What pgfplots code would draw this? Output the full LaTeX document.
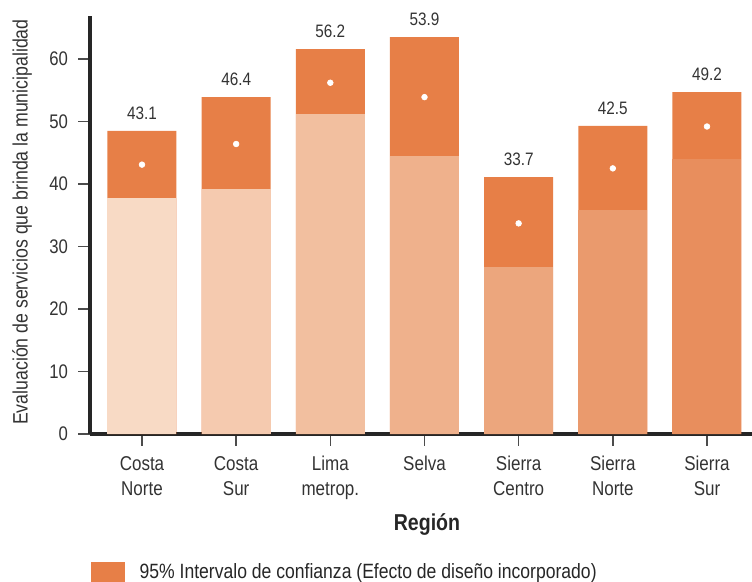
\documentclass[border=0pt]{standalone}
\usepackage{fontspec}
\setmainfont{Liberation Sans}[FakeStretch=0.85]
\usepackage{pgfplots}
\pgfplotsset{compat=1.18}
\definecolor{ci}{HTML}{E77F47}
\definecolor{cA}{HTML}{F8DAC5}
\definecolor{cB}{HTML}{F5CAAF}
\definecolor{cC}{HTML}{F2BF9F}
\definecolor{cD}{HTML}{EFB18C}
\definecolor{cE}{HTML}{ECA67D}
\definecolor{cF}{HTML}{EA9A6D}
\definecolor{cG}{HTML}{E88E5D}
\definecolor{txt}{HTML}{333333}
\begin{document}
\begin{tikzpicture}
\useasboundingbox (-54pt,-88.2pt) rectangle (397.2pt,260.4pt);
\begin{axis}[
  at={(0,0)}, anchor=south west,
  scale only axis, width=397.2pt, height=250.8pt,
  xmin=-0.552, xmax=6.478, ymin=0, ymax=66.88,
  axis x line*=bottom, axis y line*=left,
  axis line style={line width=2pt, color=black!85, -},
  xtick={0,1,2,3,4,5,6},
  xticklabels={Costa\\Norte, Costa\\Sur, Lima\\metrop., Selva, Sierra\\Centro, Sierra\\Norte, Sierra\\Sur},
  ytick={0,10,20,30,40,50,60},
  tick align=outside, major tick length=7pt,
  major tick style={line width=0.9pt, color=black!70},
  /pgf/number format/assume math mode=true,
  ticklabel style={text=txt},
  yticklabel style={font=\fontsize{11.8}{14}\selectfont, anchor=east, inner sep=0pt},
  yticklabel shift=6pt,
  xticklabel style={font=\fontsize{12}{15}\selectfont, align=center, anchor=north, inner sep=0pt},
  xticklabel shift=6.2pt,
  ylabel={Evaluación de servicios que brinda la municipalidad},
  ylabel style={at={(axis description cs:-0.1027,0.507)}, anchor=center, font=\fontsize{12.5}{14}\selectfont, text=txt},
  xlabel={Región},
  xlabel style={at={(axis description cs:0.509,0)}, anchor=base, yshift=-57.6pt, font=\bfseries\fontsize{13.8}{16}\selectfont, text=black!85},
  legend style={draw=none, fill=none, inner sep=0pt, at={(axis description cs:0,0)}, anchor=north west, xshift=0.6pt, yshift=-75.6pt, font=\fontsize{12.4}{15}\selectfont, text=black!85},
  clip=false,
]
% CI (full height up to upper bound), with mean label above
\addplot[ybar, bar width=41.4pt, bar shift=0pt, fill=ci, draw=none,
  nodes near coords, point meta=explicit symbolic,
  nodes near coords style={font=\fontsize{10.8}{12}\selectfont, text=txt, inner sep=0pt, anchor=south, yshift=6.8pt},
  legend image code/.code={\fill[ci] (0pt,-6.3pt) rectangle (20.4pt,6.3pt); \path (27pt,0pt);}]
  coordinates {(0,48.5) [43.1] (1,53.9) [46.4] (2,61.6) [56.2] (3,63.5) [53.9] (4,41.1) [33.7] (5,49.3) [42.5] (6,54.7) [49.2]};
\addlegendentry{95\% Intervalo de confianza (Efecto de diseño incorporado)}
% lower bounds
\addplot[ybar, bar width=41.4pt, bar shift=0pt, fill=cA, draw=none, forget plot] coordinates {(0,37.8)};
\addplot[ybar, bar width=41.4pt, bar shift=0pt, fill=cB, draw=none, forget plot] coordinates {(1,39.2)};
\addplot[ybar, bar width=41.4pt, bar shift=0pt, fill=cC, draw=none, forget plot] coordinates {(2,51.2)};
\addplot[ybar, bar width=41.4pt, bar shift=0pt, fill=cD, draw=none, forget plot] coordinates {(3,44.5)};
\addplot[ybar, bar width=41.4pt, bar shift=0pt, fill=cE, draw=none, forget plot] coordinates {(4,26.7)};
\addplot[ybar, bar width=41.4pt, bar shift=0pt, fill=cF, draw=none, forget plot] coordinates {(5,35.8)};
\addplot[ybar, bar width=41.4pt, bar shift=0pt, fill=cG, draw=none, forget plot] coordinates {(6,44.0)};
% means
\addplot[only marks, mark=*, mark size=1.7pt, white, forget plot]
  coordinates {(0,43.1) (1,46.4) (2,56.2) (3,53.9) (4,33.7) (5,42.5) (6,49.2)};
\end{axis}
\end{tikzpicture}
\end{document}
